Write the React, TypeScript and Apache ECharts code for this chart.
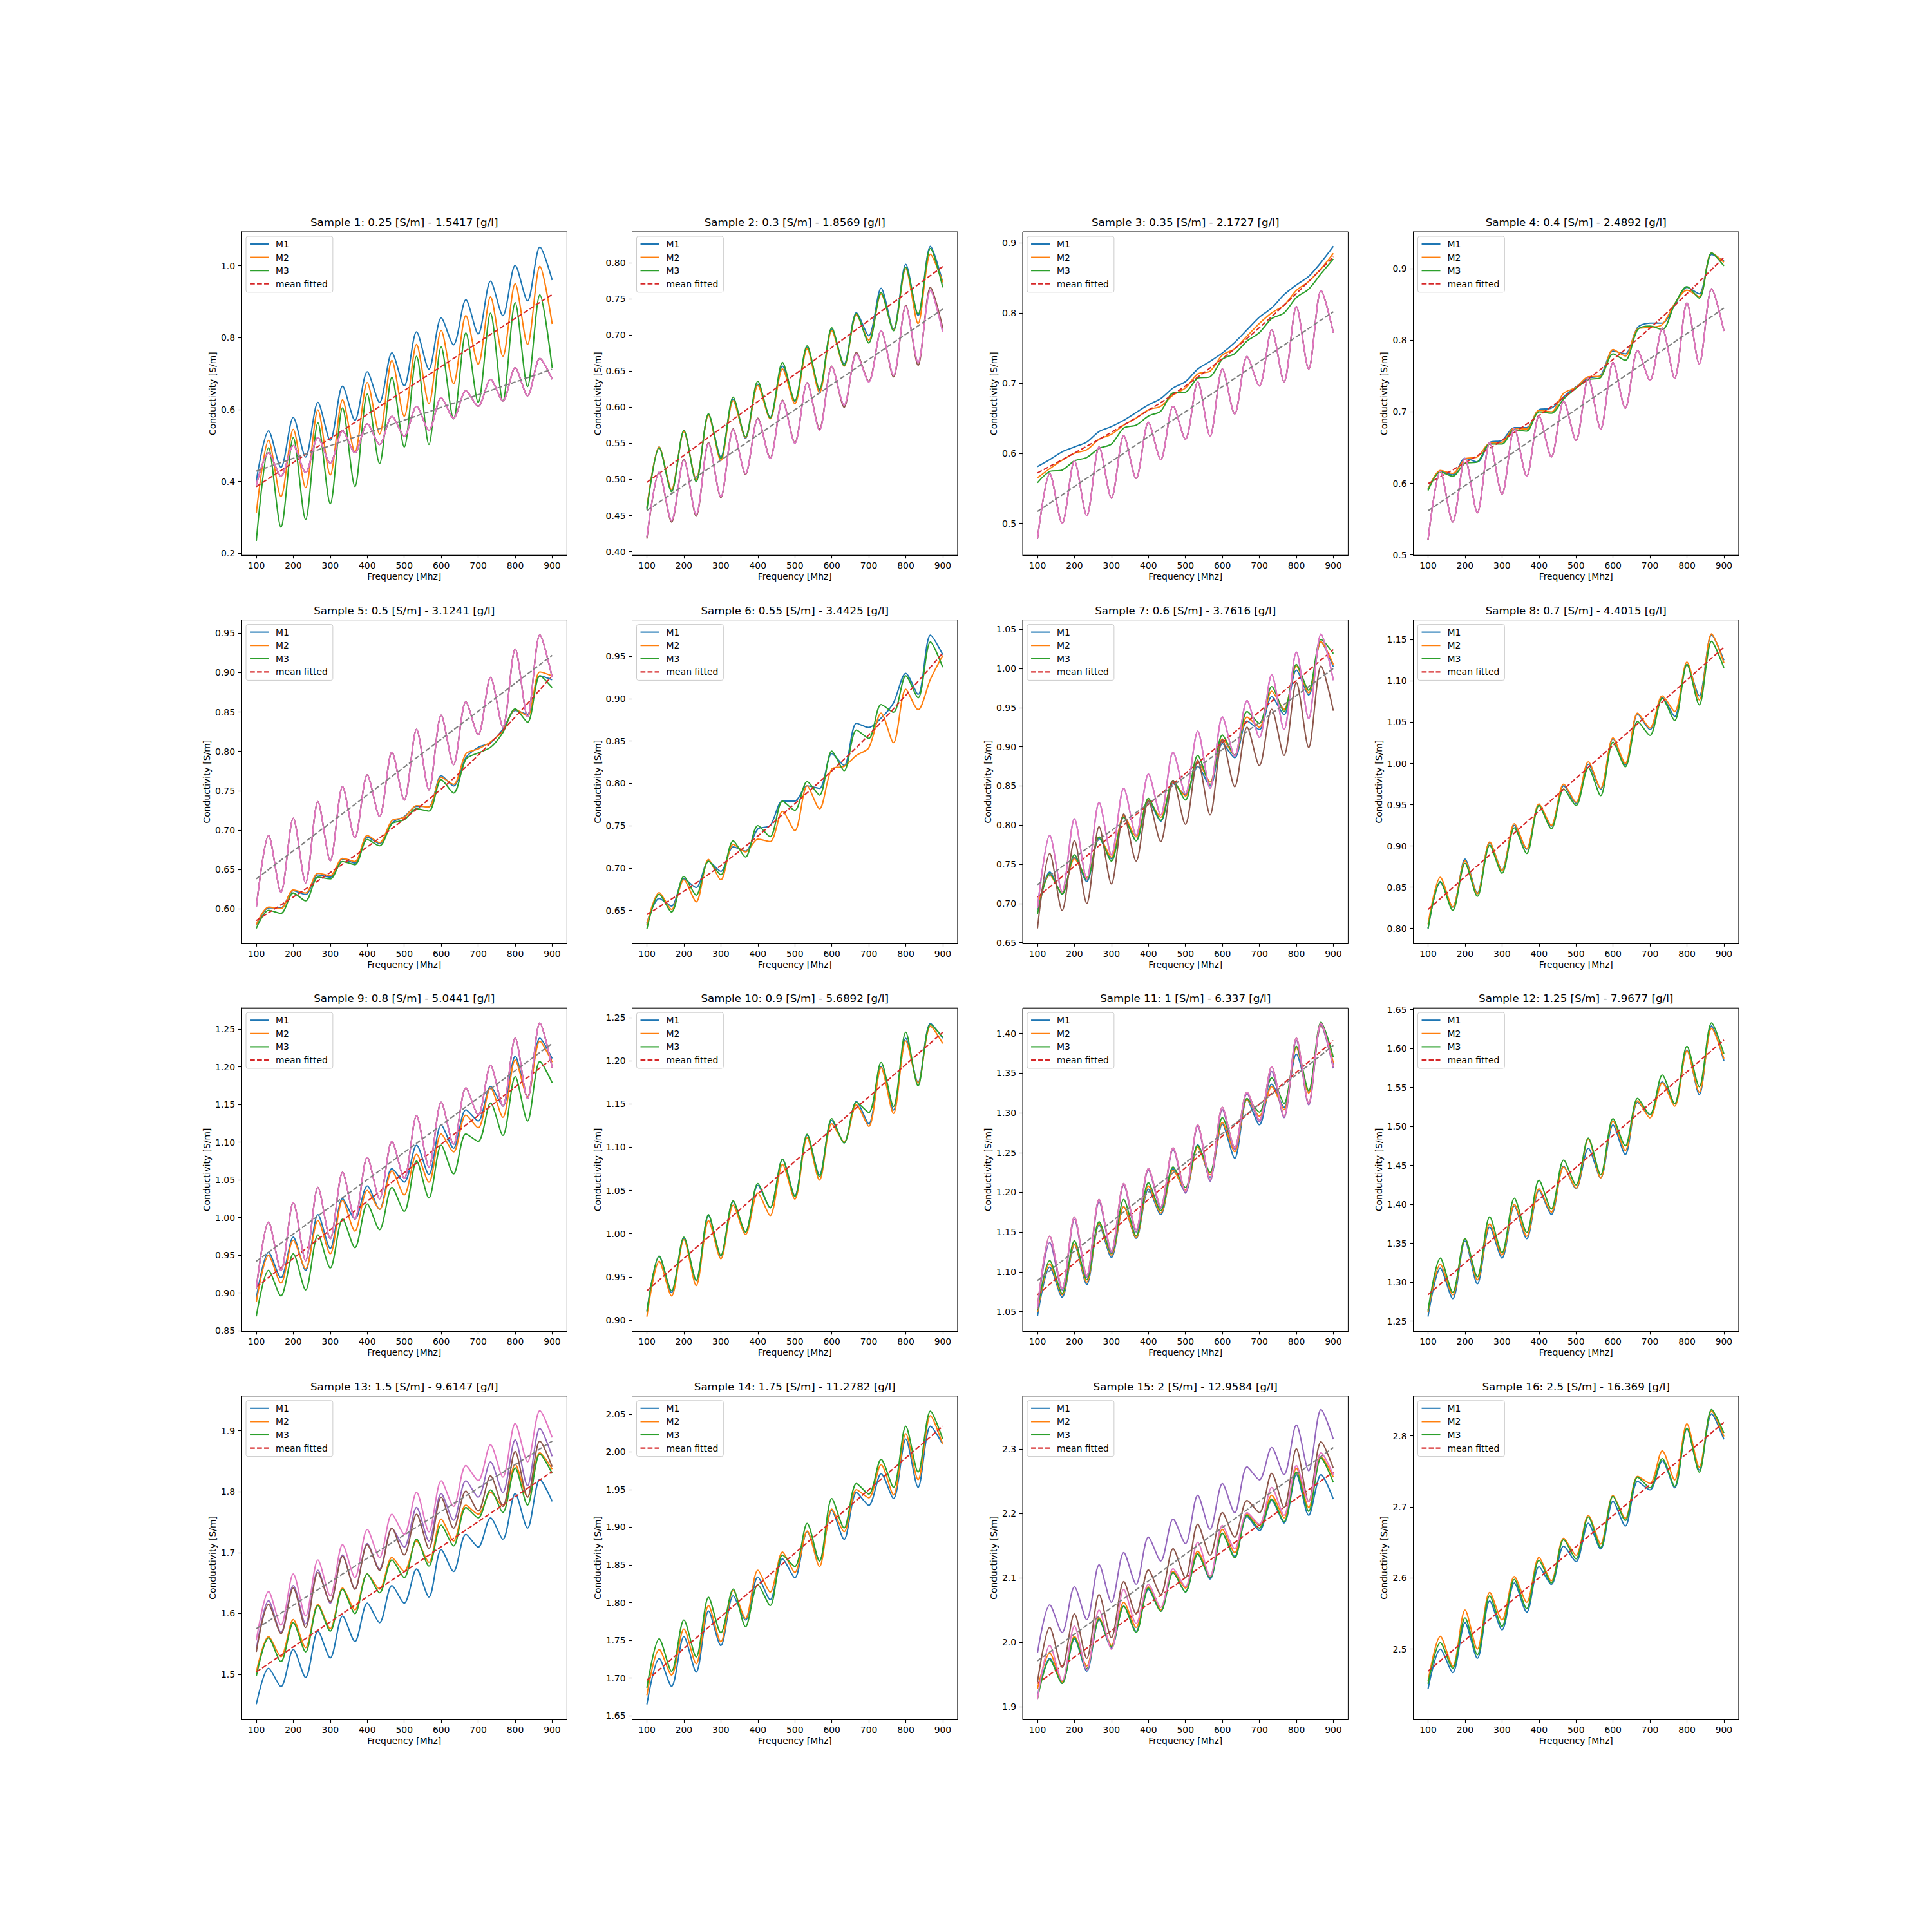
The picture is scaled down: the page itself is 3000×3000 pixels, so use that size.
import React, { useEffect, useRef } from "react";
import * as echarts from "echarts";

// ---- shared axes data ----
const FREQ = [100, 133.3, 166.7, 200, 233.3, 266.7, 300, 333.3, 366.7, 400, 433.3, 466.7, 500, 533.3, 566.7, 600, 633.3, 666.7, 700, 733.3, 766.7, 800, 833.3, 866.7, 900];
const X_TICKS = [100, 200, 300, 400, 500, 600, 700, 800, 900];
const FIT_X2 = [100, 900];
const FIT_X5 = [100, 300, 500, 700, 900];

const SIGMA = ["0.25", "0.3", "0.35", "0.4", "0.5", "0.55", "0.6", "0.7", "0.8", "0.9", "1", "1.25", "1.5", "1.75", "2", "2.5"];
const CONC = ["1.5417", "1.8569", "2.1727", "2.4892", "3.1241", "3.4425", "3.7616", "4.4015", "5.0441", "5.6892", "6.337", "7.9677", "9.6147", "11.2782", "12.9584", "16.369"];

const Y_LIMITS = [
  [0.195, 1.094], [0.395, 0.843], [0.4546, 0.9156], [0.4995, 0.9516],
  [0.556, 0.967], [0.611, 0.993], [0.649, 1.062], [0.782, 1.174],
  [0.849, 1.278], [0.887, 1.261], [1.025, 1.432], [1.237, 1.652],
  [1.426, 1.957], [1.645, 2.074], [1.88, 2.382], [2.401, 2.856],
];

const Y_TICKS = [
  ["0.2", "0.4", "0.6", "0.8", "1.0"],
  ["0.40", "0.45", "0.50", "0.55", "0.60", "0.65", "0.70", "0.75", "0.80"],
  ["0.5", "0.6", "0.7", "0.8", "0.9"],
  ["0.5", "0.6", "0.7", "0.8", "0.9"],
  ["0.60", "0.65", "0.70", "0.75", "0.80", "0.85", "0.90", "0.95"],
  ["0.65", "0.70", "0.75", "0.80", "0.85", "0.90", "0.95"],
  ["0.65", "0.70", "0.75", "0.80", "0.85", "0.90", "0.95", "1.00", "1.05"],
  ["0.80", "0.85", "0.90", "0.95", "1.00", "1.05", "1.10", "1.15"],
  ["0.85", "0.90", "0.95", "1.00", "1.05", "1.10", "1.15", "1.20", "1.25"],
  ["0.90", "0.95", "1.00", "1.05", "1.10", "1.15", "1.20", "1.25"],
  ["1.05", "1.10", "1.15", "1.20", "1.25", "1.30", "1.35", "1.40"],
  ["1.25", "1.30", "1.35", "1.40", "1.45", "1.50", "1.55", "1.60", "1.65"],
  ["1.5", "1.6", "1.7", "1.8", "1.9"],
  ["1.65", "1.70", "1.75", "1.80", "1.85", "1.90", "1.95", "2.00", "2.05"],
  ["1.9", "2.0", "2.1", "2.2", "2.3"],
  ["2.5", "2.6", "2.7", "2.8"],
];

// ---- measurement series (values at FREQ) ----
const S1_M1 = [0.402, 0.541, 0.439, 0.578, 0.468, 0.620, 0.514, 0.665, 0.570, 0.705, 0.620, 0.758, 0.666, 0.816, 0.712, 0.855, 0.780, 0.905, 0.810, 0.957, 0.861, 1.001, 0.902, 1.052, 0.960];
const S1_M2 = [0.312, 0.515, 0.358, 0.545, 0.383, 0.599, 0.418, 0.627, 0.482, 0.675, 0.532, 0.737, 0.581, 0.781, 0.617, 0.820, 0.672, 0.861, 0.726, 0.913, 0.748, 0.950, 0.781, 0.998, 0.838];
const S1_M3 = [0.235, 0.494, 0.273, 0.522, 0.294, 0.563, 0.338, 0.605, 0.386, 0.643, 0.450, 0.690, 0.496, 0.748, 0.503, 0.774, 0.574, 0.813, 0.620, 0.868, 0.624, 0.897, 0.664, 0.919, 0.716];
const S1_REF = [0.390, 0.480, 0.415, 0.500, 0.425, 0.522, 0.451, 0.541, 0.480, 0.560, 0.503, 0.581, 0.526, 0.609, 0.542, 0.633, 0.576, 0.652, 0.609, 0.684, 0.624, 0.716, 0.638, 0.742, 0.684];

const S2_M1 = [0.460, 0.545, 0.485, 0.567, 0.499, 0.590, 0.531, 0.611, 0.557, 0.632, 0.586, 0.657, 0.608, 0.683, 0.623, 0.708, 0.660, 0.731, 0.699, 0.765, 0.708, 0.798, 0.727, 0.823, 0.773];
const S2_M2 = [0.461, 0.545, 0.486, 0.566, 0.500, 0.589, 0.526, 0.609, 0.558, 0.630, 0.584, 0.653, 0.605, 0.681, 0.620, 0.706, 0.657, 0.728, 0.693, 0.757, 0.707, 0.792, 0.716, 0.812, 0.773];
const S2_M3 = [0.458, 0.544, 0.483, 0.568, 0.497, 0.591, 0.529, 0.614, 0.559, 0.636, 0.585, 0.662, 0.609, 0.685, 0.625, 0.710, 0.658, 0.730, 0.689, 0.759, 0.706, 0.794, 0.729, 0.820, 0.766];
const S2_REF = [0.420, 0.510, 0.443, 0.527, 0.451, 0.550, 0.476, 0.569, 0.508, 0.584, 0.529, 0.609, 0.550, 0.634, 0.568, 0.656, 0.603, 0.674, 0.635, 0.706, 0.644, 0.740, 0.662, 0.762, 0.704];
const S2_REF_B = [0.418, 0.510, 0.441, 0.528, 0.449, 0.551, 0.475, 0.570, 0.507, 0.585, 0.530, 0.610, 0.551, 0.634, 0.570, 0.657, 0.600, 0.676, 0.636, 0.706, 0.642, 0.741, 0.658, 0.766, 0.710];

const S3_M1 = [0.581, 0.591, 0.602, 0.609, 0.616, 0.631, 0.638, 0.647, 0.658, 0.669, 0.678, 0.693, 0.702, 0.720, 0.731, 0.743, 0.758, 0.776, 0.794, 0.807, 0.826, 0.840, 0.852, 0.872, 0.895];
const S3_M2 = [0.565, 0.578, 0.590, 0.600, 0.605, 0.620, 0.627, 0.640, 0.650, 0.662, 0.667, 0.683, 0.693, 0.713, 0.717, 0.740, 0.749, 0.767, 0.785, 0.800, 0.811, 0.832, 0.845, 0.863, 0.885];
const S3_M3 = [0.558, 0.574, 0.576, 0.589, 0.594, 0.607, 0.613, 0.636, 0.640, 0.653, 0.660, 0.686, 0.687, 0.707, 0.709, 0.734, 0.742, 0.760, 0.772, 0.792, 0.800, 0.822, 0.834, 0.856, 0.877];
const S3_REF = [0.478, 0.571, 0.500, 0.589, 0.511, 0.609, 0.536, 0.625, 0.564, 0.644, 0.591, 0.667, 0.620, 0.702, 0.624, 0.720, 0.656, 0.738, 0.696, 0.776, 0.702, 0.809, 0.720, 0.832, 0.772];

const S4_M1 = [0.592, 0.617, 0.612, 0.635, 0.630, 0.657, 0.660, 0.678, 0.678, 0.703, 0.705, 0.721, 0.735, 0.747, 0.751, 0.785, 0.781, 0.818, 0.824, 0.824, 0.849, 0.874, 0.865, 0.920, 0.911];
const S4_M2 = [0.591, 0.618, 0.614, 0.634, 0.637, 0.656, 0.657, 0.677, 0.676, 0.702, 0.700, 0.726, 0.734, 0.749, 0.750, 0.787, 0.778, 0.816, 0.818, 0.822, 0.851, 0.870, 0.861, 0.922, 0.909];
const S4_M3 = [0.590, 0.616, 0.610, 0.628, 0.630, 0.655, 0.655, 0.675, 0.673, 0.700, 0.698, 0.718, 0.733, 0.745, 0.748, 0.781, 0.772, 0.815, 0.820, 0.815, 0.850, 0.875, 0.859, 0.922, 0.904];
const S4_REF = [0.521, 0.617, 0.546, 0.635, 0.559, 0.657, 0.585, 0.677, 0.610, 0.694, 0.637, 0.715, 0.660, 0.747, 0.676, 0.769, 0.705, 0.786, 0.744, 0.817, 0.747, 0.852, 0.767, 0.872, 0.813];

const S5_M1 = [0.579, 0.601, 0.601, 0.623, 0.618, 0.643, 0.640, 0.663, 0.658, 0.691, 0.683, 0.709, 0.717, 0.730, 0.730, 0.769, 0.756, 0.792, 0.805, 0.811, 0.828, 0.852, 0.847, 0.896, 0.891];
const S5_M2 = [0.580, 0.602, 0.600, 0.624, 0.620, 0.645, 0.642, 0.664, 0.660, 0.693, 0.684, 0.712, 0.716, 0.731, 0.729, 0.767, 0.758, 0.797, 0.803, 0.812, 0.826, 0.853, 0.845, 0.901, 0.896];
const S5_M3 = [0.575, 0.598, 0.594, 0.620, 0.610, 0.640, 0.638, 0.660, 0.656, 0.688, 0.680, 0.708, 0.713, 0.727, 0.724, 0.764, 0.747, 0.790, 0.798, 0.805, 0.824, 0.854, 0.837, 0.896, 0.881];
const S5_REF = [0.602, 0.693, 0.621, 0.715, 0.633, 0.736, 0.661, 0.755, 0.690, 0.770, 0.717, 0.799, 0.738, 0.828, 0.751, 0.846, 0.783, 0.863, 0.821, 0.894, 0.831, 0.930, 0.844, 0.948, 0.894];

const S6_M1 = [0.635, 0.664, 0.655, 0.687, 0.677, 0.708, 0.696, 0.725, 0.720, 0.746, 0.750, 0.779, 0.779, 0.797, 0.794, 0.835, 0.821, 0.871, 0.866, 0.877, 0.895, 0.930, 0.905, 0.975, 0.952];
const S6_M2 = [0.633, 0.671, 0.651, 0.686, 0.660, 0.710, 0.686, 0.728, 0.719, 0.734, 0.731, 0.767, 0.744, 0.797, 0.770, 0.817, 0.820, 0.833, 0.842, 0.883, 0.848, 0.911, 0.887, 0.923, 0.951];
const S6_M3 = [0.628, 0.669, 0.648, 0.690, 0.668, 0.708, 0.692, 0.732, 0.713, 0.750, 0.737, 0.779, 0.768, 0.802, 0.786, 0.838, 0.815, 0.863, 0.853, 0.893, 0.884, 0.927, 0.901, 0.967, 0.937];

const S7_M1 = [0.692, 0.740, 0.712, 0.759, 0.728, 0.783, 0.757, 0.810, 0.780, 0.831, 0.805, 0.853, 0.839, 0.875, 0.850, 0.904, 0.886, 0.933, 0.922, 0.964, 0.941, 0.998, 0.966, 1.034, 1.002];
const S7_M2 = [0.696, 0.736, 0.713, 0.757, 0.733, 0.785, 0.759, 0.812, 0.785, 0.832, 0.810, 0.855, 0.837, 0.881, 0.855, 0.910, 0.889, 0.938, 0.925, 0.971, 0.948, 1.003, 0.969, 1.034, 1.005];
const S7_M3 = [0.686, 0.738, 0.712, 0.762, 0.730, 0.785, 0.754, 0.810, 0.780, 0.834, 0.806, 0.857, 0.832, 0.889, 0.852, 0.915, 0.889, 0.945, 0.930, 0.977, 0.945, 1.005, 0.972, 1.037, 1.019];
const S7_REF_P = [0.694, 0.787, 0.715, 0.808, 0.731, 0.829, 0.762, 0.847, 0.787, 0.865, 0.813, 0.893, 0.840, 0.920, 0.847, 0.938, 0.888, 0.959, 0.912, 0.992, 0.922, 1.021, 0.936, 1.044, 0.985];
const S7_REF_B = [0.668, 0.764, 0.691, 0.780, 0.700, 0.798, 0.725, 0.814, 0.754, 0.831, 0.779, 0.857, 0.801, 0.883, 0.813, 0.909, 0.849, 0.925, 0.876, 0.948, 0.889, 0.982, 0.899, 1.003, 0.946];

const S8_M1 = [0.800, 0.856, 0.826, 0.884, 0.843, 0.904, 0.871, 0.925, 0.896, 0.950, 0.924, 0.973, 0.952, 0.999, 0.969, 1.030, 0.998, 1.060, 1.041, 1.080, 1.057, 1.120, 1.082, 1.156, 1.125];
const S8_M2 = [0.805, 0.862, 0.826, 0.882, 0.842, 0.905, 0.870, 0.927, 0.897, 0.951, 0.925, 0.975, 0.953, 1.002, 0.970, 1.031, 1.000, 1.061, 1.043, 1.082, 1.063, 1.123, 1.077, 1.157, 1.122];
const S8_M3 = [0.800, 0.857, 0.822, 0.879, 0.839, 0.901, 0.867, 0.922, 0.891, 0.949, 0.921, 0.969, 0.949, 0.995, 0.961, 1.026, 0.996, 1.051, 1.034, 1.079, 1.052, 1.120, 1.071, 1.148, 1.116];

const S9_M1 = [0.893, 0.954, 0.920, 0.974, 0.930, 1.004, 0.959, 1.025, 0.998, 1.042, 1.011, 1.065, 1.047, 1.096, 1.057, 1.123, 1.092, 1.143, 1.128, 1.174, 1.148, 1.214, 1.160, 1.238, 1.211];
const S9_M2 = [0.888, 0.950, 0.913, 0.970, 0.932, 0.996, 0.952, 1.023, 0.982, 1.036, 1.011, 1.062, 1.030, 1.084, 1.047, 1.111, 1.087, 1.136, 1.119, 1.172, 1.133, 1.209, 1.160, 1.234, 1.206];
const S9_M3 = [0.869, 0.930, 0.896, 0.952, 0.904, 0.977, 0.933, 0.998, 0.960, 1.018, 0.984, 1.040, 1.008, 1.075, 1.026, 1.096, 1.058, 1.111, 1.101, 1.152, 1.109, 1.187, 1.128, 1.207, 1.179];
const S9_REF = [0.906, 0.994, 0.930, 1.020, 0.943, 1.040, 0.972, 1.060, 0.998, 1.080, 1.025, 1.101, 1.052, 1.135, 1.067, 1.153, 1.097, 1.172, 1.136, 1.202, 1.148, 1.238, 1.158, 1.258, 1.199];

const S10_M1 = [0.910, 0.974, 0.932, 0.994, 0.946, 1.021, 0.974, 1.037, 1.002, 1.056, 1.030, 1.086, 1.044, 1.114, 1.068, 1.131, 1.105, 1.153, 1.127, 1.193, 1.143, 1.226, 1.175, 1.243, 1.226];
const S10_M2 = [0.904, 0.968, 0.928, 0.993, 0.940, 1.015, 0.971, 1.033, 0.999, 1.047, 1.021, 1.080, 1.040, 1.111, 1.062, 1.127, 1.106, 1.149, 1.124, 1.192, 1.139, 1.223, 1.174, 1.240, 1.220];
const S10_M3 = [0.910, 0.974, 0.934, 0.996, 0.946, 1.022, 0.975, 1.038, 1.002, 1.058, 1.030, 1.086, 1.043, 1.115, 1.066, 1.133, 1.105, 1.152, 1.140, 1.198, 1.147, 1.233, 1.171, 1.242, 1.227];

const S11_M1 = [1.044, 1.106, 1.068, 1.134, 1.084, 1.159, 1.118, 1.182, 1.142, 1.204, 1.172, 1.230, 1.200, 1.260, 1.219, 1.286, 1.243, 1.317, 1.285, 1.336, 1.307, 1.374, 1.326, 1.410, 1.360];
const S11_M2 = [1.049, 1.110, 1.071, 1.135, 1.087, 1.161, 1.121, 1.182, 1.143, 1.208, 1.174, 1.228, 1.203, 1.257, 1.222, 1.288, 1.251, 1.317, 1.296, 1.333, 1.304, 1.382, 1.325, 1.410, 1.363];
const S11_M3 = [1.052, 1.114, 1.073, 1.139, 1.090, 1.163, 1.123, 1.191, 1.145, 1.212, 1.177, 1.232, 1.206, 1.259, 1.225, 1.294, 1.256, 1.318, 1.301, 1.344, 1.312, 1.384, 1.328, 1.414, 1.370];
const S11_REF = [1.055, 1.145, 1.079, 1.169, 1.095, 1.191, 1.126, 1.211, 1.153, 1.230, 1.182, 1.256, 1.201, 1.285, 1.216, 1.307, 1.256, 1.326, 1.291, 1.358, 1.296, 1.394, 1.312, 1.413, 1.358];
const S11_REF_V = [1.053, 1.137, 1.077, 1.166, 1.093, 1.188, 1.124, 1.209, 1.150, 1.228, 1.180, 1.254, 1.199, 1.283, 1.214, 1.304, 1.254, 1.324, 1.289, 1.352, 1.294, 1.391, 1.310, 1.411, 1.356];

const S12_M1 = [1.256, 1.318, 1.279, 1.353, 1.298, 1.371, 1.331, 1.398, 1.356, 1.418, 1.387, 1.449, 1.420, 1.472, 1.434, 1.502, 1.464, 1.531, 1.515, 1.557, 1.529, 1.598, 1.541, 1.629, 1.584];
const S12_M2 = [1.262, 1.323, 1.284, 1.356, 1.303, 1.375, 1.335, 1.400, 1.359, 1.420, 1.390, 1.448, 1.421, 1.484, 1.434, 1.507, 1.469, 1.533, 1.511, 1.556, 1.526, 1.597, 1.544, 1.626, 1.587];
const S12_M3 = [1.264, 1.331, 1.287, 1.356, 1.307, 1.384, 1.338, 1.408, 1.364, 1.431, 1.394, 1.457, 1.425, 1.485, 1.438, 1.510, 1.475, 1.536, 1.515, 1.566, 1.529, 1.603, 1.551, 1.633, 1.593];

const S13_M1 = [1.451, 1.510, 1.480, 1.541, 1.495, 1.571, 1.527, 1.596, 1.554, 1.617, 1.585, 1.646, 1.617, 1.673, 1.627, 1.705, 1.669, 1.730, 1.709, 1.757, 1.722, 1.797, 1.740, 1.820, 1.784];
const S13_M2 = [1.504, 1.562, 1.529, 1.590, 1.544, 1.615, 1.575, 1.642, 1.606, 1.665, 1.640, 1.692, 1.669, 1.719, 1.684, 1.755, 1.719, 1.778, 1.763, 1.799, 1.776, 1.845, 1.791, 1.864, 1.837];
const S13_M3 = [1.497, 1.560, 1.521, 1.585, 1.537, 1.613, 1.571, 1.640, 1.600, 1.665, 1.634, 1.688, 1.659, 1.722, 1.678, 1.745, 1.711, 1.774, 1.757, 1.803, 1.766, 1.839, 1.778, 1.862, 1.830];
const S13_REF_V = [1.541, 1.621, 1.569, 1.646, 1.583, 1.671, 1.617, 1.696, 1.640, 1.715, 1.673, 1.740, 1.709, 1.774, 1.719, 1.797, 1.753, 1.818, 1.791, 1.849, 1.799, 1.885, 1.810, 1.904, 1.858];
const S13_REF_B = [1.537, 1.615, 1.567, 1.642, 1.577, 1.667, 1.619, 1.694, 1.640, 1.713, 1.671, 1.740, 1.696, 1.763, 1.707, 1.791, 1.740, 1.801, 1.768, 1.826, 1.776, 1.866, 1.791, 1.883, 1.841];
const S13_REF_P = [1.556, 1.636, 1.581, 1.665, 1.596, 1.688, 1.629, 1.713, 1.659, 1.738, 1.692, 1.763, 1.730, 1.799, 1.734, 1.818, 1.776, 1.843, 1.818, 1.877, 1.824, 1.912, 1.849, 1.933, 1.889];

const S14_M1 = [1.665, 1.726, 1.689, 1.755, 1.708, 1.789, 1.743, 1.809, 1.777, 1.834, 1.804, 1.858, 1.833, 1.894, 1.856, 1.922, 1.884, 1.946, 1.929, 1.971, 1.938, 2.017, 1.953, 2.034, 2.010];
const S14_M2 = [1.677, 1.738, 1.704, 1.765, 1.719, 1.796, 1.748, 1.816, 1.779, 1.843, 1.814, 1.867, 1.840, 1.895, 1.848, 1.924, 1.894, 1.950, 1.939, 1.983, 1.943, 2.024, 1.963, 2.048, 2.010];
const S14_M3 = [1.687, 1.752, 1.709, 1.777, 1.728, 1.807, 1.760, 1.818, 1.768, 1.824, 1.796, 1.863, 1.848, 1.905, 1.855, 1.938, 1.899, 1.958, 1.944, 1.990, 1.953, 2.034, 1.973, 2.054, 2.017];

const S15_M1 = [1.916, 1.975, 1.936, 2.005, 1.955, 2.035, 1.991, 2.056, 2.017, 2.082, 2.048, 2.108, 2.078, 2.137, 2.098, 2.169, 2.133, 2.195, 2.173, 2.220, 2.185, 2.260, 2.197, 2.260, 2.222];
const S15_M2 = [1.928, 1.983, 1.938, 2.009, 1.963, 2.038, 1.995, 2.062, 2.023, 2.086, 2.050, 2.110, 2.084, 2.141, 2.102, 2.175, 2.139, 2.199, 2.181, 2.228, 2.193, 2.270, 2.209, 2.288, 2.256];
const S15_M3 = [1.912, 1.973, 1.936, 2.007, 1.959, 2.036, 1.993, 2.056, 2.015, 2.084, 2.048, 2.108, 2.078, 2.137, 2.100, 2.169, 2.131, 2.197, 2.177, 2.222, 2.187, 2.264, 2.203, 2.286, 2.248];
const S15_REF_V = [1.983, 2.058, 2.015, 2.086, 2.035, 2.120, 2.062, 2.139, 2.090, 2.163, 2.126, 2.191, 2.153, 2.228, 2.175, 2.246, 2.201, 2.272, 2.252, 2.302, 2.260, 2.337, 2.266, 2.361, 2.315];
const S15_REF_B = [1.938, 2.023, 1.961, 2.044, 1.975, 2.074, 2.007, 2.094, 2.044, 2.112, 2.074, 2.145, 2.100, 2.183, 2.135, 2.201, 2.163, 2.220, 2.201, 2.262, 2.209, 2.300, 2.218, 2.311, 2.270];
const S15_REF_P = [1.912, 1.995, 1.940, 2.025, 1.957, 2.050, 1.989, 2.082, 2.029, 2.090, 2.054, 2.114, 2.086, 2.155, 2.102, 2.181, 2.145, 2.201, 2.183, 2.240, 2.197, 2.274, 2.218, 2.294, 2.260];

const S16_M1 = [2.444, 2.500, 2.467, 2.537, 2.487, 2.568, 2.527, 2.593, 2.552, 2.616, 2.591, 2.645, 2.623, 2.677, 2.641, 2.708, 2.673, 2.736, 2.724, 2.765, 2.727, 2.810, 2.752, 2.831, 2.795];
const S16_M2 = [2.455, 2.518, 2.476, 2.555, 2.500, 2.580, 2.541, 2.602, 2.566, 2.629, 2.596, 2.656, 2.632, 2.688, 2.648, 2.716, 2.684, 2.743, 2.733, 2.779, 2.738, 2.817, 2.756, 2.835, 2.799];
const S16_M3 = [2.451, 2.509, 2.473, 2.544, 2.492, 2.575, 2.532, 2.598, 2.557, 2.625, 2.593, 2.654, 2.627, 2.686, 2.643, 2.715, 2.681, 2.742, 2.727, 2.768, 2.729, 2.811, 2.749, 2.837, 2.804];

// fitted curves (x positions given per plot)
const MEAN_FIT_X = [FIT_X2, FIT_X2, FIT_X5, FIT_X5, FIT_X5, FIT_X5, FIT_X2, FIT_X2, FIT_X2, FIT_X2, FIT_X2, FIT_X2, FIT_X2, FIT_X2, FIT_X2, FIT_X2];
const MEAN_FIT = [
  [0.386, 0.920], [0.496, 0.795], [0.572, 0.630, 0.696, 0.779, 0.880], [0.5996, 0.660, 0.733, 0.817, 0.916],
  [0.585, 0.646, 0.714, 0.795, 0.896], [0.645, 0.703, 0.776, 0.857, 0.954], [0.708, 1.024], [0.823, 1.141],
  [0.908, 1.211], [0.934, 1.233], [1.071, 1.391], [1.284, 1.611],
  [1.504, 1.833], [1.697, 2.034], [1.936, 2.264], [2.469, 2.819],
];
const REF_FIT = [
  [0.429, 0.712], [0.457, 0.736], [0.517, 0.8016], [0.5616, 0.845],
  [0.638, 0.922], null, [0.724, 1.0], null,
  [0.942, 1.231], null, [1.089, 1.385], null,
  [1.575, 1.883], null, [1.971, 2.302], null,
];

const M_SETS = [
  [S1_M1, S1_M2, S1_M3], [S2_M1, S2_M2, S2_M3], [S3_M1, S3_M2, S3_M3], [S4_M1, S4_M2, S4_M3],
  [S5_M1, S5_M2, S5_M3], [S6_M1, S6_M2, S6_M3], [S7_M1, S7_M2, S7_M3], [S8_M1, S8_M2, S8_M3],
  [S9_M1, S9_M2, S9_M3], [S10_M1, S10_M2, S10_M3], [S11_M1, S11_M2, S11_M3], [S12_M1, S12_M2, S12_M3],
  [S13_M1, S13_M2, S13_M3], [S14_M1, S14_M2, S14_M3], [S15_M1, S15_M2, S15_M3], [S16_M1, S16_M2, S16_M3],
];
// second measurement set: [purple, brown, pink]
const REF_SETS = [
  [S1_REF, S1_REF, S1_REF], [S2_REF, S2_REF_B, S2_REF], [S3_REF, S3_REF, S3_REF], [S4_REF, S4_REF, S4_REF],
  [S5_REF, S5_REF, S5_REF], null, [S7_REF_P, S7_REF_B, S7_REF_P], null,
  [S9_REF, S9_REF, S9_REF], null, [S11_REF_V, S11_REF, S11_REF], null,
  [S13_REF_V, S13_REF_B, S13_REF_P], null, [S15_REF_V, S15_REF_B, S15_REF_P], null,
];

const M_NAMES = ["M1", "M2", "M3"];
const M_COLORS = ["#1f77b4", "#ff7f0e", "#2ca02c"];
const REF_COLORS = ["#9467bd", "#8c564b", "#e377c2"];
const FONT = "DejaVu Sans";

function buildOption() {
  const grid: any[] = [];
  const xAxis: any[] = [];
  const yAxis: any[] = [];
  const series: any[] = [];
  const title: any[] = [];
  const legend: any[] = [];
  const W = 505.4;
  const H = 502.2;
  const LW = 2.08;
  const DASH = [7.7, 3.3];

  for (let i = 0; i < 16; i++) {
    const col = i % 4;
    const row = Math.floor(i / 4);
    const gl = 375 + col * 606.5;
    const gt = 360 + row * 602.6;
    grid.push({ left: gl, top: gt, width: W, height: H, show: true, borderColor: "#000", borderWidth: 1, backgroundColor: "transparent", containLabel: false, outerBoundsMode: "none" });

    xAxis.push({
      type: "value", gridIndex: i, min: 60, max: 940,
      name: "Frequency [Mhz]", nameLocation: "middle", nameGap: 26,
      nameTextStyle: { fontFamily: FONT, fontSize: 13.9, color: "#000" },
      axisLine: { show: true, onZero: false, lineStyle: { color: "#000", width: 1 } },
      axisTick: { show: true, inside: false, length: 5, customValues: X_TICKS, lineStyle: { color: "#000", width: 1.1 } },
      axisLabel: { show: true, margin: 9, customValues: X_TICKS, fontFamily: FONT, fontSize: 13.9, color: "#000", formatter: (v: number) => String(v) },
      splitLine: { show: false },
    });

    const ticks = Y_TICKS[i];
    const dec = (ticks[0].split(".")[1] || "").length;
    const digits = ticks[0].replace(".", "").length;
    const lblW = digits * 8.84 + 4.42;
    yAxis.push({
      type: "value", gridIndex: i, min: Y_LIMITS[i][0], max: Y_LIMITS[i][1],
      name: "Conductivity [S/m]", nameLocation: "middle", nameGap: 10 + lblW + 6,
      nameTextStyle: { fontFamily: FONT, fontSize: 13.9, color: "#000" },
      axisLine: { show: true, onZero: false, lineStyle: { color: "#000", width: 1 } },
      axisTick: { show: true, inside: false, length: 5, customValues: ticks.map(Number), lineStyle: { color: "#000", width: 1.1 } },
      axisLabel: { show: true, margin: 10, customValues: ticks.map(Number), fontFamily: FONT, fontSize: 13.9, color: "#000", formatter: (v: number) => v.toFixed(dec) },
      splitLine: { show: false },
    });

    title.push({
      text: `Sample ${i + 1}: ${SIGMA[i]} [S/m] - ${CONC[i]} [g/l]`,
      left: gl + W / 2, top: gt - 25, textAlign: "center", padding: 0,
      textStyle: { fontFamily: FONT, fontSize: 16.7, fontWeight: "normal", color: "#000", lineHeight: 20 },
    });

    legend.push({
      data: ["M1", "M2", "M3", "mean fitted"],
      orient: "vertical", left: gl + 7, top: gt + 7,
      padding: [5, 8, 6, 5], itemGap: 6.6, itemWidth: 29, itemHeight: 14,
      backgroundColor: "rgba(255,255,255,0.8)", borderColor: "#cccccc", borderWidth: 1, borderRadius: 3,
      selectedMode: false,
      itemStyle: { opacity: 0, borderWidth: 0 },
      lineStyle: { opacity: 1, width: LW },
      textStyle: { fontFamily: FONT, fontSize: 13.9, color: "#000", padding: [0, 0, 0, 6] },
    });

    const base = { type: "line", xAxisIndex: i, yAxisIndex: i, showSymbol: false, symbol: "none", silent: true, emphasis: { disabled: true } };
    M_SETS[i].forEach((vals, k) => {
      series.push({ ...base, name: M_NAMES[k], smooth: 0.3, data: FREQ.map((f, j) => [f, vals[j]]), lineStyle: { color: M_COLORS[k], width: LW }, itemStyle: { color: M_COLORS[k] } });
    });
    const fx = MEAN_FIT_X[i];
    series.push({ ...base, name: "mean fitted", smooth: fx.length > 2 ? 0.4 : false, data: fx.map((f, j) => [f, MEAN_FIT[i][j]]), lineStyle: { color: "#d62728", width: LW, type: DASH }, itemStyle: { color: "#d62728" } });
    const refs = REF_SETS[i];
    if (refs) {
      refs.forEach((vals, k) => {
        series.push({ ...base, name: "ref" + k, smooth: 0.3, data: FREQ.map((f, j) => [f, vals[j]]), lineStyle: { color: REF_COLORS[k], width: LW }, itemStyle: { color: REF_COLORS[k] } });
      });
    }
    const rf = REF_FIT[i];
    if (rf) {
      series.push({ ...base, name: "ref fitted", data: FIT_X2.map((f, j) => [f, rf[j]]), lineStyle: { color: "#7f7f7f", width: LW, type: DASH }, itemStyle: { color: "#7f7f7f" } });
    }
  }

  return { animation: false, backgroundColor: "#ffffff", grid, xAxis, yAxis, series, title, legend, tooltip: { show: false } };
}

export default function App() {
  const ref = useRef<HTMLDivElement>(null);
  useEffect(() => {
    if (!ref.current) return;
    const chart = echarts.init(ref.current, null, { renderer: "svg" });
    chart.setOption(buildOption() as any);
    return () => chart.dispose();
  }, []);
  return <div ref={ref} style={{ position: "absolute", left: 0, top: 0, width: 3000, height: 3000, background: "#fff" }} />;
}
